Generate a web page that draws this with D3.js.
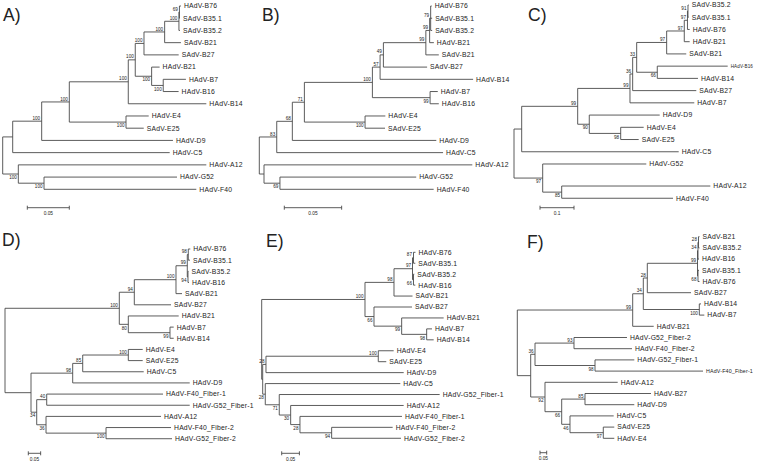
<!DOCTYPE html>
<html><head><meta charset="utf-8">
<script src="https://cdn.jsdelivr.net/npm/d3@7"></script>
<style>body{margin:0;background:#fff}svg{display:block}</style>
</head><body>
<svg id="chart" width="760" height="464"></svg>
<script>
// ---------------- DATA ----------------
const panelLetters = ["A)", "B)", "C)", "D)", "E)", "F)"];

const newickA = "((((((((((HAdV-B76:0.0018,SAdV-B35.1:0.0006)69:0.0006,SAdV-B35.2:0.0012)100:0.0170,SAdV-B21:0.0194)100:0.0246,SAdV-B27:0.0413)100:0.0104,(HAdV-B21:0.0095,(HAdV-B7:0.0270,HAdV-B16:0.0183)100:0.0138)100:0.0195)100:0.0083,HAdV-B14:0.0929)100:0.0702,(HAdV-E4:0.0270,SAdV-E25:0.0211)100:0.0675)100:0.0329,HAdV-D9:0.1563)100:0.0345,HAdV-C5:0.1869):0.0119,(HAdV-A12:0.2238,(HAdV-G52:0.1583,HAdV-F40:0.1813)100:0.0306)100:0.0186);";

const newickB = "((((((((((HAdV-B76:0.0009,SAdV-B35.1:0.0013,SAdV-B35.2:0.0013)79:0.0009,HAdV-B21:0.0037)99:0.0033,SAdV-B21:0.0113)99:0.0370,SAdV-B27:0.0381)49:0.0029,HAdV-B14:0.0811)57:0.0067,(HAdV-B7:0.0067,HAdV-B16:0.0076)99:0.0503)100:0.0593,(HAdV-E4:0.0177,SAdV-E25:0.0174)100:0.0529)71:0.0105,HAdV-D9:0.1255)68:0.0136,HAdV-C5:0.1450)83:0.0152,(HAdV-A12:0.1816,(HAdV-G52:0.1188,HAdV-F40:0.1340)69:0.0139):0.0041);";

const newickC = "((((((((((SAdV-B35.2:0.0021,SAdV-B35.1:0.0021)91:0.0015,HAdV-B76:0.0065)97:0.0094,HAdV-B21:0.0159)97:0.0518,SAdV-B21:0.0576)97:0.0882,(HAdV-B16:0.2071,HAdV-B14:0.1197)66:0.0606)33:0.0118,SAdV-B27:0.1871)36:0.0079,HAdV-B7:0.1891)99:0.1538,(HAdV-D9:0.2071,(HAdV-E4:0.0676,SAdV-E25:0.0529)98:0.0924)90:0.0341)99:0.1647,HAdV-C5:0.4618):0.0226,(HAdV-G52:0.3047,(HAdV-A12:0.4371,HAdV-F40:0.3274)85:0.0559)97:0.0844);";

const newickD = "((((((HAdV-B76:0.0081,SAdV-B35.1:0.0069)98:0.0040,(SAdV-B35.2:0.0020,HAdV-B16:0.0040)94:0.0028)99:0.0457,SAdV-B21:0.0243)100:0.1688,SAdV-B27:0.1486)94:0.0607,(HAdV-B21:0.2040,(HAdV-B7:0.0150,HAdV-B14:0.0150)99:0.1688)80:0.0364)100:0.4628,((((HAdV-E4:0.0583,SAdV-E25:0.0583)100:0.1846,HAdV-C5:0.2470)85:0.0405,HAdV-D9:0.4737)98:0.1688,((HAdV-F40_Fiber-1:0.4709,HAdV-G52_Fiber-1:0.5789)40:0.0405,(HAdV-A12:0.4656,(HAdV-F40_Fiber-2:0.2632,HAdV-G52_Fiber-2:0.2672)100:0.2429)36:0.0377)34:0.0231):0.1053);";

const newickE = "(((((HAdV-B76:0.0056,SAdV-B35.1:0.0051)87:0.0028,(SAdV-B35.2:0.0023,HAdV-B16:0.0051)66:0.0028)97:0.0523,SAdV-B21:0.0523)98:0.0819,(SAdV-B27:0.1073,(HAdV-B21:0.1186,(HAdV-B7:0.0150,HAdV-B14:0.0198)98:0.0706)99:0.0782)66:0.0254)100:0.2918,(((HAdV-E4:0.0435,SAdV-E25:0.0226)100:0.3172,HAdV-D9:0.3890)28:0.0093,(HAdV-C5:0.3814,(HAdV-G52_Fiber-1:0.4531,(HAdV-A12:0.3192,(HAdV-F40_Fiber-1:0.2881,(HAdV-F40_Fiber-2:0.1723,HAdV-G52_Fiber-2:0.1958)94:0.0895)28:0.0263)30:0.0322)71:0.0395)28:0.0073):0.0028);";

const newickF = "(((((((SAdV-B21:0.0075,SAdV-B35.2:0.0075)28:0.0037,HAdV-B16:0.0075)34:0.0037,(SAdV-B35.1:0.0075,HAdV-B76:0.0112)68:0.0037)99:0.3746,SAdV-B27:0.3261)28:0.0299,(HAdV-B14:0.0127,HAdV-B7:0.0373)100:0.4179)34:0.0791,HAdV-B21:0.1567)99:0.8612,(((HAdV-G52_Fiber-2:0.3955,HAdV-F40_Fiber-2:0.4328)93:0.2910,(HAdV-G52_Fiber-1:0.2933,HAdV-F40_Fiber-1:0.8060)98:0.4478)36:0.0321,(HAdV-A12:0.5425,((HAdV-B27:0.4925,HAdV-D9:0.3679)85:0.1739,(HAdV-C5:0.3261,(SAdV-E25:0.0821,HAdV-E4:0.0821)97:0.2485)46:0.0619)66:0.1246)92:0.1067):0.1000);";

const trees = [newickA, newickB, newickC, newickD, newickE, newickF];
const scaleBarValues = [0.05, 0.05, 0.1, 0.05, 0.05, 0.05];
const scaleBarLabels = ["0.05", "0.05", "0.1", "0.05", "0.05", "0.05"];

// ---------------- LAYOUT ----------------
const layouts = [
  {rootX: 2.7,   k: 840,  y0: 6,     step: 12.22, barX: 27.3,  barY: 207.7, lx: 3,   ly: 20.5},
  {rootX: 259.3, k: 1147, y0: 6,     step: 12.22, barX: 284.3, barY: 207.7, lx: 262, ly: 20.5},
  {rootX: 514,   k: 340,  y0: 5,     step: 12.23, gapAfter: 13, gap: 9.8, barX: 540, barY: 207.7, lx: 528, ly: 20.5},
  {rootX: 5,     k: 247,  y0: 249,   step: 11.16, barX: 28.3,  barY: 453.3, lx: 2,   ly: 245.5},
  {rootX: 261.7, k: 354,  y0: 252.3, step: 10.94, barX: 281.7, barY: 453.3, lx: 266, ly: 246.5},
  {rootX: 517.3, k: 134,  y0: 236.7, step: 11.2,  barX: 540,   barY: 452.7, lx: 527, ly: 248}
];
const RIGHT_LIMIT = 753;
const LEAF_FS = 6.8;
const FONT = "'Liberation Sans', Arial, Helvetica, sans-serif";
const LINE = "#4a4a4a";
const TEXT = "#222";

function parseNewick(s) {
  let i = 0;
  function node() {
    const nd = {children: []};
    if (s[i] === "(") {
      i++;
      nd.children.push(node());
      while (s[i] === ",") { i++; nd.children.push(node()); }
      i++;
    }
    let name = "";
    while (i < s.length && !",():;".includes(s[i])) name += s[i++];
    nd.name = name;
    nd.length = 0;
    if (s[i] === ":") {
      i++;
      let num = "";
      while (i < s.length && !",();".includes(s[i])) num += s[i++];
      nd.length = +num;
    }
    return nd;
  }
  return node();
}

const svg = d3.select("#chart");

trees.forEach((nw, p) => {
  const L = layouts[p];
  const root = d3.hierarchy(parseNewick(nw), d => d.children.length ? d.children : null);
  root.eachBefore(n => { n.dist = n.parent ? n.parent.dist + n.data.length : 0; });
  const leaves = root.leaves();
  const n = leaves.length;
  const x = d3.scaleLinear().domain([0, 1]).range([L.rootX, L.rootX + L.k]);
  const yi = d3.scaleLinear().domain([0, n - 1]).range([L.y0, L.y0 + (n - 1) * L.step]);
  leaves.forEach((lf, i) => {
    lf.py = yi(i) + (L.gapAfter != null && i > L.gapAfter ? L.gap : 0);
  });
  root.eachAfter(nd => {
    if (nd.children) nd.py = (nd.children[0].py + nd.children[nd.children.length - 1].py) / 2;
  });

  const g = svg.append("g");
  const internals = root.descendants().filter(d => d.children);
  const nonRoot = root.descendants().filter(d => d.parent);

  g.selectAll("line.v").data(internals).join("line")
    .attr("x1", d => x(d.dist)).attr("x2", d => x(d.dist))
    .attr("y1", d => d.children[0].py).attr("y2", d => d.children[d.children.length - 1].py)
    .attr("stroke", LINE).attr("stroke-width", 0.9);

  g.selectAll("line.h").data(nonRoot).join("line")
    .attr("x1", d => x(d.parent.dist)).attr("x2", d => x(d.dist))
    .attr("y1", d => d.py).attr("y2", d => d.py)
    .attr("stroke", LINE).attr("stroke-width", 0.9);

  g.selectAll("text.leaf").data(leaves).join("text")
    .attr("x", d => x(d.dist) + 3).attr("y", d => d.py).attr("dy", "0.35em")
    .attr("font-family", FONT).attr("font-size", LEAF_FS).attr("letter-spacing", 0.2)
    .attr("fill", TEXT).text(d => d.data.name)
    .each(function (d) {
      const x0 = x(d.dist) + 3;
      const w = this.getComputedTextLength();
      if (x0 + w > RIGHT_LIMIT) {
        // shrink the label so that it stays inside the picture
        const fs = LEAF_FS * (RIGHT_LIMIT - x0) / w;
        d3.select(this).attr("letter-spacing", 0.2 * fs / LEAF_FS).attr("font-size", fs.toFixed(2));
      }
    });

  const supported = internals.filter(d => d.parent && d.data.name);
  g.selectAll("text.bs").data(supported).join("text")
    .attr("x", d => x(d.dist) - 1.5)
    .attr("y", d => d.parent.children[0] === d ? d.py - 1.4 : d.py + 5.2)
    .attr("text-anchor", "end")
    .attr("font-family", FONT).attr("font-size", 4.6)
    .attr("fill", TEXT).text(d => d.data.name);

  // scale bar
  const len = x(scaleBarValues[p]) - x(0);
  const sb = g.append("g");
  sb.append("line").attr("x1", L.barX).attr("x2", L.barX + len)
    .attr("y1", L.barY).attr("y2", L.barY).attr("stroke", LINE).attr("stroke-width", 0.9);
  [L.barX, L.barX + len].forEach(xx => sb.append("line")
    .attr("x1", xx).attr("x2", xx).attr("y1", L.barY - 2).attr("y2", L.barY + 2)
    .attr("stroke", LINE).attr("stroke-width", 0.9));
  sb.append("text").attr("x", L.barX + len / 2).attr("y", L.barY + 7.5)
    .attr("text-anchor", "middle").attr("font-family", FONT).attr("font-size", 4.8)
    .attr("fill", TEXT).text(scaleBarLabels[p]);

  svg.append("text").attr("x", L.lx).attr("y", L.ly)
    .attr("font-family", FONT).attr("font-size", 17.5).attr("fill", TEXT)
    .text(panelLetters[p]);
});
</script>
</body></html>
